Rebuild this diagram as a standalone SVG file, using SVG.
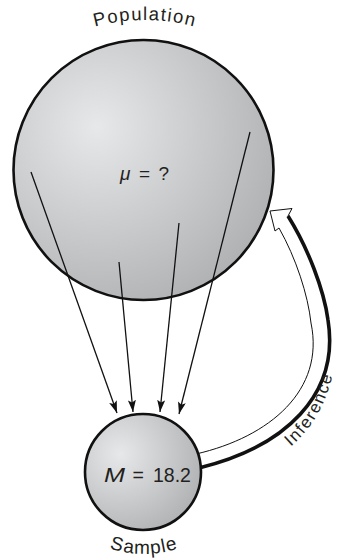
<svg xmlns="http://www.w3.org/2000/svg" width="338" height="560" viewBox="0 0 338 560">
<style>
.lbl{font-family:"Liberation Sans",Arial,sans-serif;fill:#231f20}
.ball{stroke:#111;stroke-width:2.6}
.samp{stroke:#111;stroke-width:1.3;fill:none;marker-end:url(#ah)}
</style>
<defs>
<radialGradient id="gPop" gradientUnits="userSpaceOnUse" cx="97" cy="127" r="230">
<stop offset="0" stop-color="#e7e8ea"/>
<stop offset="1" stop-color="#a6a7a9"/>
</radialGradient>
<radialGradient id="gSam" gradientUnits="userSpaceOnUse" cx="120" cy="454" r="105">
<stop offset="0" stop-color="#e7e8ea"/>
<stop offset="1" stop-color="#a6a7a9"/>
</radialGradient>
<marker id="ah" markerUnits="userSpaceOnUse" markerWidth="14" markerHeight="10" refX="12" refY="4" orient="auto">
<path d="M0,0 L12,4 L0,8 L2.5,4 z" fill="#111"/>
</marker>
<path id="pPop" d="M -45,210 A 190 190 0 0 1 335,210"/>
<path id="pSam" d="M 34,444 A 110 110 0 0 0 254,444"/>
<path id="pInf" d="M 279,456 C 308,435 331,405 336.5,351 L 338,300"/>
</defs>

<g id="inference-arrow">
<path d="M 199,468 C 285,447 340,395 328,320 C 324,290 308,248 288,216 L 292,208.5 L 270,211 L 275,231 L 279,228 C 296,258 308,295 311,323 C 325,390 270,437 196,454 Z" fill="#fff" stroke="#111" stroke-width="1"/>
<path d="M 199,468 C 285,447 340,395 328,320 C 324,290 308,248 288,216" fill="none" stroke="#111" stroke-width="3.6"/>
<text class="lbl" font-size="17" letter-spacing="1.6"><textPath href="#pInf" startOffset="15">Inference</textPath></text>
</g>

<g id="population">
<circle class="ball" cx="143.5" cy="170" r="130" fill="url(#gPop)"/>
<text class="lbl" font-size="18.5" letter-spacing="1.4" text-anchor="middle"><textPath href="#pPop" startOffset="50%">Population</textPath></text>
<text class="lbl" font-size="19" y="180"><tspan x="120" font-style="italic">μ</tspan><tspan x="139">=</tspan><tspan x="158.5">?</tspan></text>
</g>

<g id="sample">
<circle class="ball" cx="143" cy="472" r="58" fill="url(#gSam)"/>
<text class="lbl" font-size="19" letter-spacing="1" text-anchor="middle"><textPath href="#pSam" startOffset="50%">Sample</textPath></text>
<text class="lbl" font-size="19.5" y="482"><tspan x="104" font-style="italic" textLength="21" lengthAdjust="spacingAndGlyphs">M</tspan><tspan x="132.5">=</tspan><tspan x="153">18.2</tspan></text>
</g>

<g id="connectors">
<line class="samp" x1="31" y1="172" x2="117" y2="413"/>
<line class="samp" x1="119" y1="262" x2="133" y2="412"/>
<line class="samp" x1="179" y1="223" x2="160" y2="412"/>
<line class="samp" x1="250" y1="132" x2="179" y2="414"/>
</g>
</svg>
